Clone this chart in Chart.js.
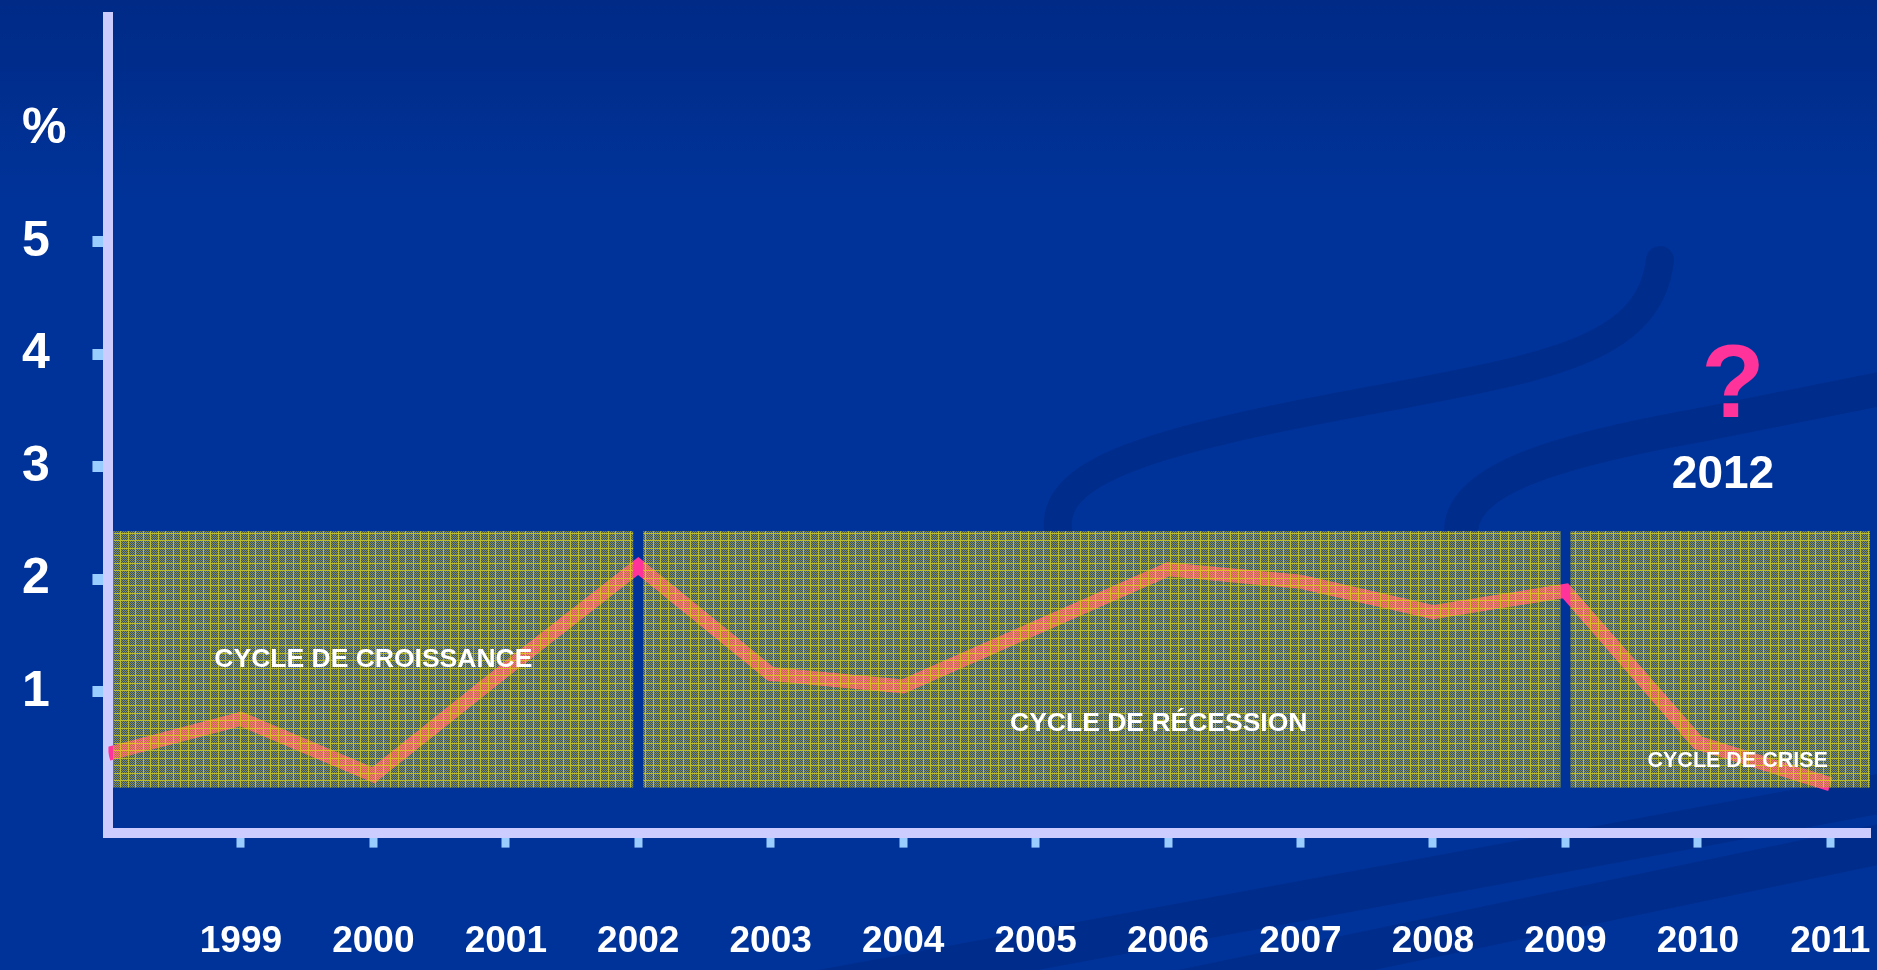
<!DOCTYPE html>
<html lang="fr">
<head>
<meta charset="utf-8">
<title>Cycles 1998-2011</title>
<script src="https://cdn.jsdelivr.net/npm/chart.js@4.4.1/dist/chart.umd.min.js"></script>
<style>
  html, body { margin: 0; padding: 0; background: #003399; }
  #wrap { width: 1877px; height: 970px; }
</style>
</head>
<body>
<div id="wrap"><canvas id="chart" width="1877" height="970"></canvas></div>
<script>
// yearly values (%)
const years = [1998, 1999, 2000, 2001, 2002, 2003, 2004, 2005, 2006, 2007, 2008, 2009, 2010, 2011];
const values = [0.45, 0.76, 0.26, 1.2, 2.12, 1.16, 1.05, 1.57, 2.09, 1.98, 1.71, 1.9, 0.55, 0.18];

// axis ticks
const yearTicks = [1999, 2000, 2001, 2002, 2003, 2004, 2005, 2006, 2007, 2008, 2009, 2010, 2011];
const valueTicks = [1, 2, 3, 4, 5];
const unitLabel = '%';

// the three cycles shaded behind the curve
const cycleNames = ['CYCLE DE CROISSANCE', 'CYCLE DE RÉCESSION', 'CYCLE DE CRISE'];
const cycleStart = [1998, 2002, 2009];
const cycleEnd = [2002, 2009, 2011.3];
const bandLow = 0.15;
const bandHigh = 2.43;

const nextYear = '2012';

const FONT = "'Liberation Sans', Arial, Helvetica, sans-serif";
Chart.defaults.font.family = FONT;

// see-through yellow mesh laid over the curve
function meshPattern(ctx) {
  const c = document.createElement('canvas');
  c.width = 15; c.height = 15;
  const g = c.getContext('2d');
  for (let y = 0; y < 15; y++) {
    for (let x = 0; x < 15; x++) {
      if (x === 0 || x === 8 || y === 0 || y === 8) g.fillStyle = 'rgba(220,215,20,0.85)';
      else if ((x + y) % 2) g.fillStyle = 'rgba(205,190,50,0.66)';
      else g.fillStyle = 'rgba(150,145,40,0.36)';
      g.fillRect(x, y, 1, 1);
    }
  }
  return ctx.createPattern(c, 'repeat');
}

const backdrop = {
  id: 'backdrop',
  beforeDraw(chart) {
    const { ctx, width, height } = chart;
    ctx.save();
    const grad = ctx.createLinearGradient(0, 0, 0, 200);
    grad.addColorStop(0, '#002a86');
    grad.addColorStop(1, '#003399');
    ctx.fillStyle = grad;
    ctx.fillRect(0, 0, width, height);

    // faint swooshes in the background
    ctx.strokeStyle = 'rgba(0, 28, 105, 0.25)';
    ctx.lineCap = 'round';
    ctx.lineWidth = 28;
    ctx.beginPath();
    ctx.moveTo(1060, 540);
    ctx.bezierCurveTo(1040, 470, 1150, 440, 1400, 395);
    ctx.bezierCurveTo(1560, 365, 1650, 345, 1660, 260);
    ctx.stroke();
    ctx.lineWidth = 34;
    ctx.beginPath();
    ctx.moveTo(1462, 540);
    ctx.bezierCurveTo(1450, 480, 1560, 450, 1700, 425);
    ctx.lineTo(1900, 385);
    ctx.stroke();
    ctx.lineWidth = 40;
    ctx.beginPath();
    ctx.moveTo(820, 990);
    ctx.lineTo(1900, 790);
    ctx.stroke();
    ctx.beginPath();
    ctx.moveTo(1180, 990);
    ctx.lineTo(1900, 840);
    ctx.stroke();
    ctx.restore();
  }
};

const cycles = {
  id: 'cycles',
  afterDatasetsDraw(chart) {
    const { ctx, chartArea, scales: { x, y } } = chart;
    const top = y.getPixelForValue(bandHigh);
    const bottom = y.getPixelForValue(bandLow);
    const gap = 5;
    ctx.save();
    ctx.fillStyle = meshPattern(ctx);
    cycleStart.forEach((s, i) => {
      const x0 = i === 0 ? chartArea.left + gap : x.getPixelForValue(s) + gap;
      const x1 = i === cycleEnd.length - 1 ? chartArea.right : x.getPixelForValue(cycleEnd[i]) - gap;
      ctx.fillRect(x0, top, x1 - x0, bottom - top);
    });

    // cycle names
    ctx.fillStyle = '#ffffff';
    ctx.textAlign = 'center';
    ctx.textBaseline = 'middle';
    ctx.font = `bold 26.5px ${FONT}`;
    ctx.fillText(cycleNames[0], x.getPixelForValue(2000), y.getPixelForValue(1.29));
    ctx.fillText(cycleNames[1], x.getPixelForValue(2005.93), y.getPixelForValue(0.72));
    ctx.font = `bold 21.5px ${FONT}`;
    ctx.fillText(cycleNames[2], (x.getPixelForValue(cycleStart[2]) + chartArea.right) / 2 + 20, y.getPixelForValue(0.39));
    ctx.restore();
  },
  afterDraw(chart) {
    const { ctx, chartArea } = chart;
    ctx.save();
    ctx.textAlign = 'center';
    ctx.textBaseline = 'alphabetic';
    ctx.fillStyle = '#ff3399';
    ctx.font = `bold 104px ${FONT}`;
    ctx.fillText('?', chartArea.right - 137, 417);
    ctx.fillStyle = '#ffffff';
    ctx.font = `bold 46px ${FONT}`;
    ctx.fillText(nextYear, chartArea.right - 147, 488);
    ctx.restore();
  }
};

new Chart(document.getElementById('chart'), {
  type: 'line',
  data: {
    datasets: [{
      data: years.map((yr, i) => ({ x: yr, y: values[i] })),
      borderColor: '#ff3399',
      borderWidth: 14,
      borderCapStyle: 'butt',
      borderJoinStyle: 'miter',
      pointRadius: 0,
      tension: 0,
      fill: false
    }]
  },
  options: {
    responsive: false,
    devicePixelRatio: 1,
    animation: false,
    layout: { padding: { left: 22, top: 17, right: 7, bottom: 6 } },
    plugins: {
      legend: { display: false },
      tooltip: { enabled: false }
    },
    scales: {
      x: {
        type: 'linear',
        min: 1998,
        max: 2011.3,
        afterBuildTicks: s => { s.ticks = yearTicks.map(v => ({ value: v })); },
        // labels sit low under the axis; no extra room below them
        afterFit: s => {
          s.paddingLeft = 0;
          s.paddingRight = 0;
          s.height -= s.options.ticks.padding;
        },
        ticks: {
          color: '#ffffff',
          font: { size: 37, weight: 'bold' },
          padding: 72,
          maxRotation: 0,
          autoSkip: false,
          callback: v => String(v)
        },
        grid: {
          drawOnChartArea: false,
          drawTicks: true,
          tickLength: 15,
          tickWidth: 8,
          tickColor: '#99ccff'
        },
        border: { display: true, width: 10, color: '#ccccff' }
      },
      y: {
        min: -0.25,
        max: 7,
        afterBuildTicks: s => { s.ticks = valueTicks.concat([6]).map(v => ({ value: v })); },
        afterFit: s => { s.paddingTop = 0; s.paddingBottom = 0; },
        ticks: {
          color: '#ffffff',
          font: { size: 50, weight: 'bold' },
          crossAlign: 'far',
          padding: 13,
          callback: v => (v === 6 ? unitLabel : String(v))
        },
        grid: {
          drawOnChartArea: false,
          drawTicks: true,
          tickLength: 16,
          tickWidth: 11,
          tickColor: c => (c.tick && c.tick.value === 6 ? 'rgba(0,0,0,0)' : '#99ccff')
        },
        border: { display: true, width: 10, color: '#ccccff' }
      }
    }
  },
  plugins: [backdrop, cycles]
});
</script>
</body>
</html>
